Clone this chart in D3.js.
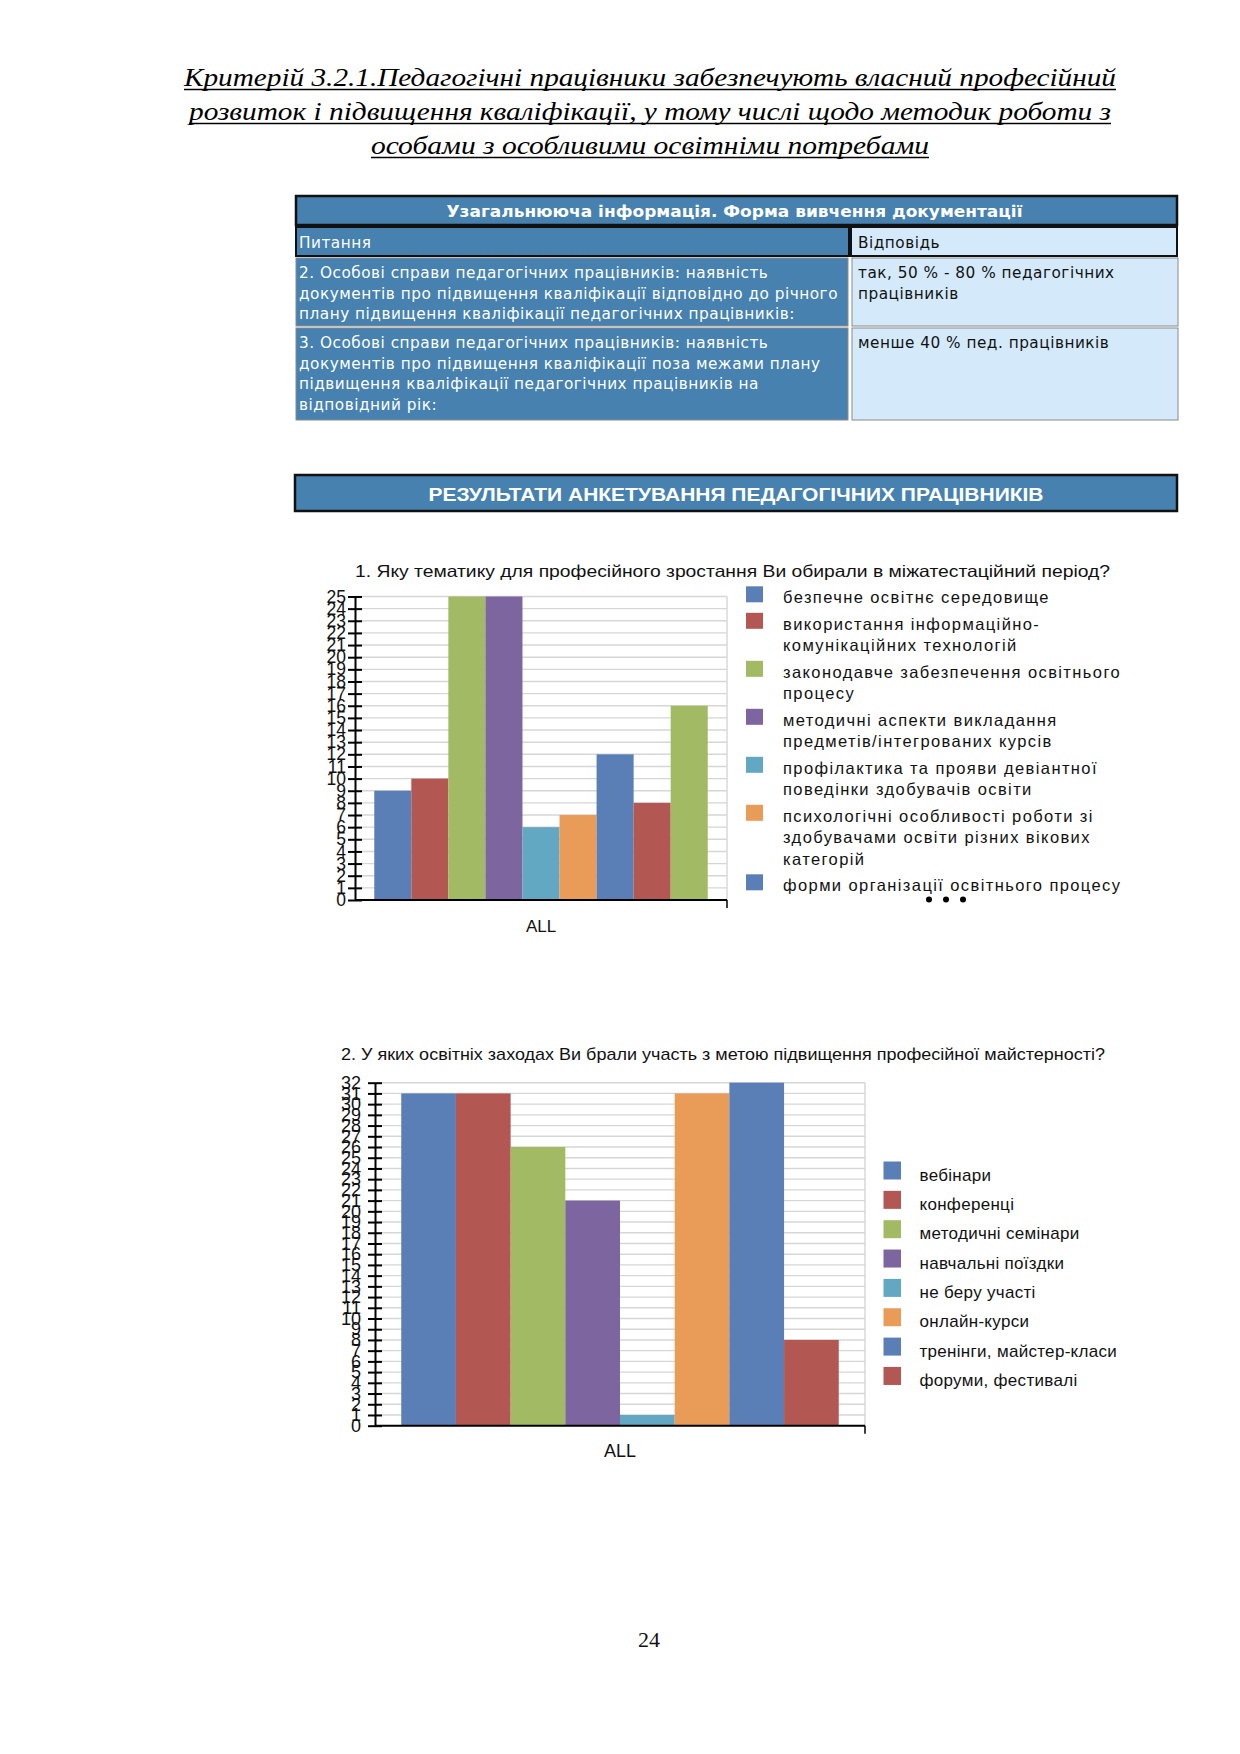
<!DOCTYPE html>
<html><head><meta charset="utf-8">
<script src="https://cdn.jsdelivr.net/npm/d3@7"></script>
<style>
html,body{margin:0;padding:0;background:#fff;}
svg{display:block;}
text{font-family:"Liberation Sans",Arial,sans-serif;}
</style></head><body>
<svg id="page" width="1240" height="1754"></svg>
<script>
// ================= DATA =================
const headingLines = [
  "Критерій 3.2.1.Педагогічні працівники забезпечують власний професійний",
  "розвиток і підвищення кваліфікації, у тому числі щодо методик роботи з",
  "особами з особливими освітніми потребами"
];
const tableTitle = "Узагальнююча інформація. Форма вивчення  документації";
const tableHead = ["Питання", "Відповідь"];
const tableQuestions = [
  ["2. Особові справи педагогічних  працівників:  наявність",
   "документів про підвищення  кваліфікації  відповідно  до річного",
   "плану підвищення  кваліфікації  педагогічних  працівників:"],
  ["3. Особові справи педагогічних  працівників:  наявність",
   "документів про підвищення  кваліфікації  поза межами плану",
   "підвищення  кваліфікації  педагогічних  працівників  на",
   "відповідний  рік:"]
];
const tableAnswers = [
  ["так, 50 % - 80 % педагогічних", "працівників"],
  ["менше 40 % пед. працівників"]
];
const sectionTitle = "РЕЗУЛЬТАТИ АНКЕТУВАННЯ ПЕДАГОГІЧНИХ ПРАЦІВНИКІВ";

const q1Title = "1. Яку тематику для професійного зростання Ви обирали в міжатестаційний період?";
const q1Legend = [
  ["безпечне  освітнє середовище"],
  ["використання інформаційно-", "комунікаційних  технологій"],
  ["законодавче  забезпечення  освітнього", "процесу"],
  ["методичні аспекти викладання", "предметів/інтегрованих  курсів"],
  ["профілактика  та  прояви девіантної", "поведінки здобувачів освіти"],
  ["психологічні особливості роботи  зі", "здобувачами  освіти  різних  вікових", "категорій"],
  ["форми  організації освітнього процесу"]
];
const q1Values = [9, 10, 25, 25, 6, 7, 12, 8, 16];
const q1Ticks = d3.range(0, 26);

const q2Title = "2. У яких освітніх заходах Ви брали участь з метою підвищення  професійної майстерності?";
const q2Categories = ["вебінари", "конференці", "методичні семінари", "навчальні поїздки",
  "не беру участі", "онлайн-курси", "тренінги, майстер-класи", "форуми,  фестивалі"];
const q2Values = [31, 31, 26, 21, 1, 31, 32, 8];
const q2Ticks = d3.range(0, 33);

const groupLabel = "ALL";
const pageNumber = "24";
const palette = ["#5A7FB6", "#B35752", "#A2BA63", "#7D659F", "#62A8C3", "#E99C57"];

// ================= DRAW =================
const svg = d3.select("#page");
const BLUE = "#4681B0", LIGHT = "#D4EAFB";
const TF = "'DejaVu Sans',sans-serif";

// ---- heading ----
const headW = [932, 922, 558];
const headG = svg.append("g");
headingLines.forEach((t, i) => {
  const y = 86 + i * 34;
  headG.append("text").attr("x", 650).attr("y", y)
    .attr("text-anchor", "middle")
    .style("font-family", "'Liberation Serif','Times New Roman',serif")
    .style("font-style", "italic").style("font-size", "26px")
    .attr("textLength", headW[i]).attr("lengthAdjust", "spacingAndGlyphs")
    .text(t);
  headG.append("line").attr("x1", 650 - headW[i] / 2).attr("x2", 650 + headW[i] / 2)
    .attr("y1", y + 3.5).attr("y2", y + 3.5).attr("stroke", "#000").attr("stroke-width", 1.3);
});

// ---- table ----
const T = {x0: 296, xm: 850, x1: 1177};
const tg = svg.append("g");
function cellText(x, y, t, fill) {
  return tg.append("text").attr("x", x).attr("y", y).attr("fill", fill)
    .style("font-family", TF).style("font-size", "15.3px").style("letter-spacing", "0.5px").text(t);
}
tg.append("rect").attr("x", T.x0).attr("y", 196).attr("width", T.x1 - T.x0).attr("height", 29)
  .attr("fill", BLUE).attr("stroke", "#111").attr("stroke-width", 2.5);
tg.append("text").attr("x", (T.x0 + T.x1) / 2 - 2).attr("y", 217).attr("text-anchor", "middle")
  .style("font-family", TF).style("font-weight", "bold").style("font-size", "16px")
  .attr("textLength", 576).attr("lengthAdjust", "spacingAndGlyphs")
  .attr("fill", "#fff").text(tableTitle);
// head row
tg.append("rect").attr("x", T.x0).attr("y", 227).attr("width", T.xm - T.x0 - 1).attr("height", 29)
  .attr("fill", BLUE).attr("stroke", "#111").attr("stroke-width", 2);
tg.append("rect").attr("x", T.xm + 1).attr("y", 227).attr("width", T.x1 - T.xm - 1).attr("height", 29)
  .attr("fill", LIGHT).attr("stroke", "#111").attr("stroke-width", 2);
cellText(T.x0 + 3, 248, tableHead[0], "#fff");
cellText(T.xm + 8, 248, tableHead[1], "#111");
// body rows
const rowTops = [258, 328], rowBots = [326, 420];
tableQuestions.forEach((lines, r) => {
  const top = rowTops[r], h = rowBots[r] - top;
  tg.append("rect").attr("x", T.x0).attr("y", top).attr("width", T.xm - T.x0 - 2).attr("height", h)
    .attr("fill", BLUE).attr("stroke", "#8a8a8a").attr("stroke-width", 1);
  tg.append("rect").attr("x", T.xm + 2).attr("y", top).attr("width", T.x1 - T.xm - 1).attr("height", h)
    .attr("fill", LIGHT).attr("stroke", "#8a8a8a").attr("stroke-width", 1);
  lines.forEach((t, i) => cellText(T.x0 + 3, top + 20 + i * 20.5, t, "#fff"));
  tableAnswers[r].forEach((t, i) => cellText(T.xm + 8, top + 20 + i * 20.5, t, "#111"));
});

// ---- section header ----
svg.append("rect").attr("x", 295).attr("y", 475).attr("width", 882).attr("height", 36)
  .attr("fill", BLUE).attr("stroke", "#111").attr("stroke-width", 2.5);
svg.append("text").attr("x", 736).attr("y", 500.5).attr("text-anchor", "middle")
  .attr("fill", "#fff").style("font-weight", "bold").style("font-size", "19px")
  .attr("textLength", 615).attr("lengthAdjust", "spacingAndGlyphs").text(sectionTitle);

// ---- generic bar chart ----
function barChart(o) {
  const g = svg.append("g");
  const max = d3.max(o.ticks);
  const y = d3.scaleLinear().domain([0, max]).range([o.yZero, o.yTop]);
  const x = d3.scaleBand().domain(d3.range(o.values.length)).range([o.x0, o.x1])
    .paddingInner(0).paddingOuter(o.padOuter);
  // gridlines
  g.append("g").selectAll("line").data(o.ticks.filter(v => v > 0)).join("line")
    .attr("x1", o.x0).attr("x2", o.x1).attr("y1", d => y(d)).attr("y2", d => y(d))
    .attr("stroke", "#D6D6D6").attr("stroke-width", 1.4);
  g.append("line").attr("x1", o.x1).attr("x2", o.x1).attr("y1", y(max)).attr("y2", o.yZero)
    .attr("stroke", "#D6D6D6").attr("stroke-width", 1.4);
  // bars
  g.append("g").selectAll("rect").data(o.values).join("rect")
    .attr("x", (d, i) => x(i)).attr("width", x.bandwidth())
    .attr("y", d => y(d)).attr("height", d => o.yZero - y(d))
    .attr("fill", (d, i) => palette[i % palette.length]);
  // y axis
  const ax = g.append("g").attr("transform", `translate(${o.x0},0)`)
    .call(d3.axisLeft(y).tickValues(o.ticks).tickFormat(d3.format("d"))
      .tickSizeInner(7).tickSizeOuter(0).tickPadding(o.labelGap));
  ax.select(".domain").attr("stroke", "#000").attr("stroke-width", 2);
  ax.selectAll(".tick line").attr("x1", 7).attr("stroke", "#000").attr("stroke-width", 2);
  ax.selectAll(".tick text").attr("fill", "#111")
    .style("font-family", "'Liberation Sans',Arial,sans-serif").style("font-size", o.tickFont + "px");
  // x axis
  g.append("line").attr("x1", o.x0).attr("x2", o.x1).attr("y1", o.yZero).attr("y2", o.yZero)
    .attr("stroke", "#000").attr("stroke-width", 2);
  g.append("line").attr("x1", o.x1).attr("x2", o.x1).attr("y1", o.yZero).attr("y2", o.yZero + 8)
    .attr("stroke", "#000").attr("stroke-width", 1.5);
  g.append("text").attr("x", (o.x0 + o.x1) / 2).attr("y", o.yZero + o.catDy)
    .attr("text-anchor", "middle").attr("fill", "#111").style("font-size", o.catFont + "px").text(groupLabel);
  // title
  g.append("text").attr("x", o.titleX).attr("y", o.titleY).attr("fill", "#111")
    .style("font-size", o.titleFont + "px")
    .attr("textLength", o.titleW).attr("lengthAdjust", "spacingAndGlyphs").text(o.title);
  return g;
}

// ---- chart 1 ----
barChart({x0: 355, x1: 727, yTop: 596.5, yZero: 900, values: q1Values, ticks: q1Ticks,
  padOuter: 0.52, labelGap: 2, tickFont: 17.5, catDy: 32, catFont: 17,
  title: q1Title, titleX: 355, titleY: 577, titleFont: 16.5, titleW: 755});
// legend 1
let ly = 603.3;
const lg1 = svg.append("g");
q1Legend.forEach((lines, i) => {
  lg1.append("rect").attr("x", 746).attr("y", ly - 17).attr("width", 17).attr("height", 16)
    .attr("fill", palette[i % palette.length]);
  lines.forEach((t, j) => lg1.append("text").attr("x", 783).attr("y", ly + j * 21.5)
    .attr("fill", "#111").style("font-size", "16.5px").style("letter-spacing", "1.4px").text(t));
  ly += lines.length * 21.5 + 5;
});
lg1.selectAll("circle.dot").data([0, 1, 2]).join("circle")
  .attr("cx", d => 929 + d * 17).attr("cy", 899.5).attr("r", 3).attr("fill", "#000");

// ---- chart 2 ----
barChart({x0: 375, x1: 865, yTop: 1082.7, yZero: 1425.7, values: q2Values, ticks: q2Ticks,
  padOuter: 0.48, labelGap: 7, tickFont: 18, catDy: 31, catFont: 18,
  title: q2Title, titleX: 341, titleY: 1059.5, titleFont: 17, titleW: 764});
const lg2 = svg.append("g");
q2Categories.forEach((t, i) => {
  const by = 1180.5 + i * 29.35;
  lg2.append("rect").attr("x", 883.5).attr("y", by - 19).attr("width", 17.5).attr("height", 18)
    .attr("fill", palette[i % palette.length]);
  lg2.append("text").attr("x", 919.5).attr("y", by).attr("fill", "#111")
    .style("font-size", "17px").style("letter-spacing", "0.3px").text(t);
});

// ---- page number ----
svg.append("text").attr("x", 649).attr("y", 1647).attr("text-anchor", "middle")
  .style("font-family", "'Liberation Serif','Times New Roman',serif").style("font-size", "22px")
  .attr("fill", "#111").text(pageNumber);
</script>
</body></html>
